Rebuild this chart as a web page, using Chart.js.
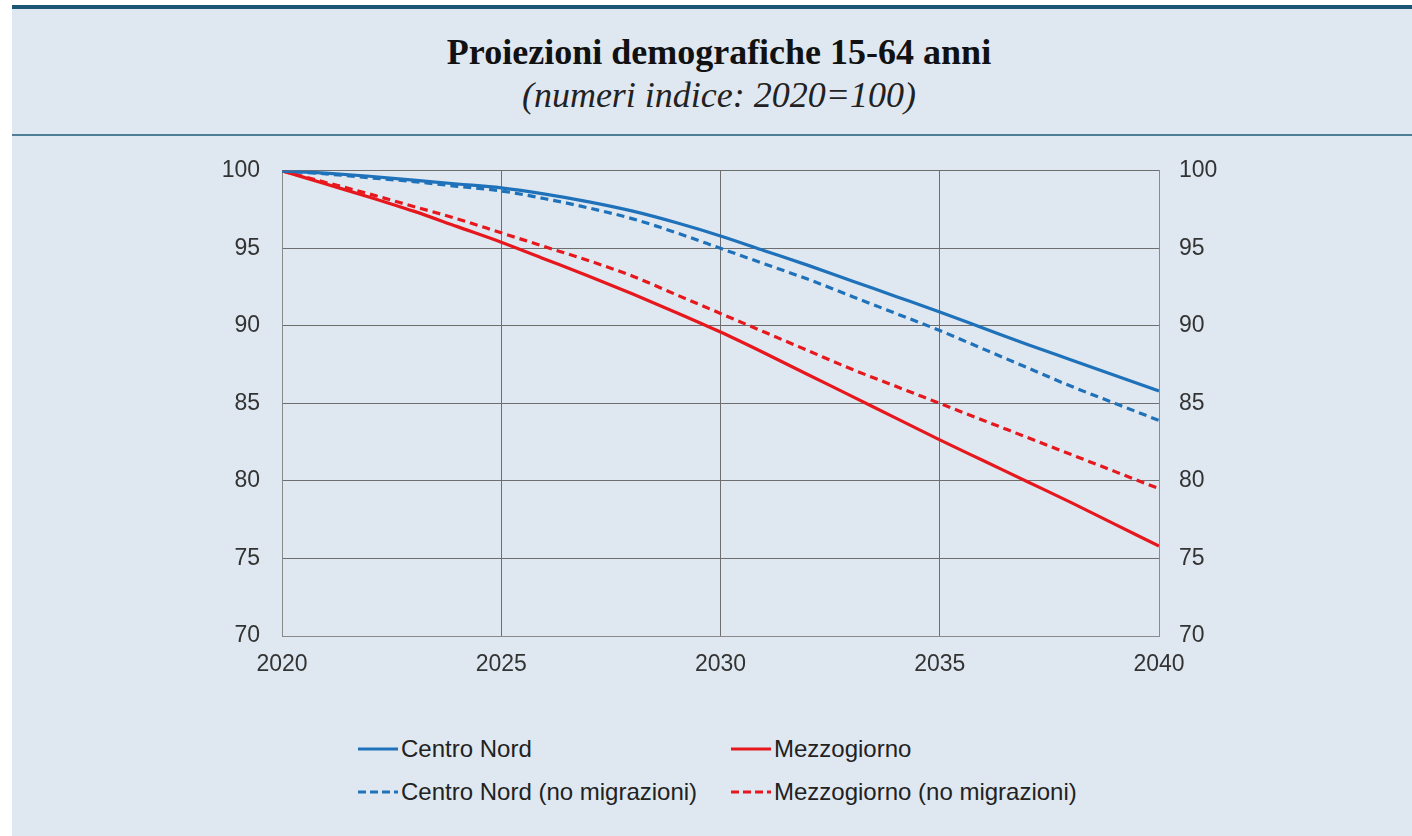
<!DOCTYPE html>
<html>
<head>
<meta charset="utf-8">
<script src="https://cdn.jsdelivr.net/npm/chart.js@4"></script>
<style>
  body { margin: 0; background: #fff; width: 1412px; height: 836px; overflow: hidden; }
  #panel { position: absolute; left: 12px; top: 5px; width: 1400px; height: 831px;
           background: #dfe8f1; border-top: 4px solid #1b5674; }
  #head { position: absolute; left: 0; top: 0; width: 1400px; height: 127px;
          border-bottom: 2px solid #4f7f98; box-sizing: border-box; }
  #title { position: absolute; left: 14px; right: 0; top: 22px; text-align: center; font: bold 36px "Liberation Serif", serif; color: #111; }
  #subtitle { position: absolute; left: 14px; right: 0; top: 65px; text-align: center; font: italic 36px "Liberation Serif", serif; color: #222; }
  #wrap { position: absolute; left: 0; top: 126px; width: 1400px; height: 565px; }
  #legend { position: absolute; left: 0; top: 0; font: 24px "Liberation Sans", Arial, sans-serif; color: #222; }
  .item { position: absolute; display: flex; align-items: center; white-space: nowrap; }
  .item svg { margin-right: 3px; }
</style>
</head>
<body>
<div id="panel">
  <div id="head">
    <div id="title">Proiezioni demografiche 15-64 anni</div>
    <div id="subtitle">(numeri indice: 2020=100)</div>
  </div>
  <div id="wrap"><canvas id="chart" width="1400" height="565"></canvas></div>
  <div id="legend"></div>
</div>
<script>
const years = [2020,2021,2022,2023,2024,2025,2026,2027,2028,2029,2030,2031,2032,2033,2034,2035,2036,2037,2038,2039,2040];
const centroNord = [100,99.85,99.65,99.4,99.15,98.9,98.5,98.0,97.4,96.65,95.8,94.85,93.9,92.9,91.9,90.9,89.85,88.8,87.8,86.8,85.8];
const centroNordNoMig = [100,99.8,99.55,99.3,99.0,98.7,98.2,97.6,96.9,96.0,95.0,94.0,93.0,91.9,90.8,89.7,88.5,87.3,86.1,85.0,83.9];
const mezzogiorno = [100,99.15,98.3,97.4,96.4,95.4,94.3,93.2,92.05,90.85,89.6,88.25,86.85,85.45,84.05,82.65,81.3,79.95,78.6,77.2,75.8];
const mezzogiornoNoMig = [100,99.25,98.5,97.7,96.9,96.0,95.1,94.2,93.2,92.0,90.8,89.6,88.4,87.2,86.1,85.0,83.9,82.8,81.7,80.6,79.5];
const yTicks = [70,75,80,85,90,95,100];

const blue = 'rgb(31,114,186)';
const red = 'rgb(230,24,30)';
const pts = arr => arr.map((v, i) => ({ x: years[i], y: v }));

const tickFont = { family: '"Liberation Sans", Arial, sans-serif', size: 23 };

const chart = new Chart(document.getElementById('chart'), {
  type: 'line',
  data: {
    datasets: [
      { label: 'Centro Nord', data: pts(centroNord), borderColor: blue, col: 0, row: 0 },
      { label: 'Centro Nord (no migrazioni)', data: pts(centroNordNoMig), borderColor: blue, borderDash: [8, 5], col: 0, row: 1 },
      { label: 'Mezzogiorno', data: pts(mezzogiorno), borderColor: red, col: 1, row: 0 },
      { label: 'Mezzogiorno (no migrazioni)', data: pts(mezzogiornoNoMig), borderColor: red, borderDash: [8, 5], col: 1, row: 1 }
    ]
  },
  options: {
    responsive: false,
    animation: false,
    layout: { padding: { top: 25, left: 0, right: 0, bottom: 0 } },
    elements: {
      point: { radius: 0 },
      line: { borderWidth: 3.2, cubicInterpolationMode: 'monotone', fill: false }
    },
    plugins: { legend: { display: false }, tooltip: { enabled: false } },
    scales: {
      x: {
        type: 'linear', min: 2020, max: 2040,
        afterFit: s => { s.height = 64; },
        ticks: { stepSize: 5, padding: 15, color: '#333', font: tickFont, callback: v => String(v), maxRotation: 0 },
        grid: { color: '#6e6e6e', lineWidth: 1, drawTicks: false },
        border: { color: '#8a8a8a', width: 1 }
      },
      y: {
        position: 'left', min: 70, max: 100,
        afterFit: s => { s.width = 270; },
        afterBuildTicks: s => { s.ticks = yTicks.map(v => ({ value: v })); },
        ticks: { padding: 22, color: '#333', font: tickFont },
        grid: { color: '#6e6e6e', lineWidth: 1, drawTicks: false },
        border: { color: '#8a8a8a', width: 1 }
      },
      y2: {
        position: 'right', min: 70, max: 100,
        afterFit: s => { s.width = 253; },
        afterBuildTicks: s => { s.ticks = yTicks.map(v => ({ value: v })); },
        ticks: { padding: 20, color: '#333', font: tickFont },
        grid: { display: false, drawTicks: false },
        border: { color: '#8a8a8a', width: 1 }
      }
    }
  }
});

// html legend in two columns
const legend = document.getElementById('legend');
const colX = [346, 719];
const rowY = [726, 769];
chart.data.datasets.forEach(ds => {
  const el = document.createElement('div');
  el.className = 'item';
  el.style.left = colX[ds.col] + 'px';
  el.style.top = rowY[ds.row] + 'px';
  const dash = ds.borderDash ? 'stroke-dasharray="8,4"' : '';
  el.innerHTML = '<svg width="40" height="6"><line x1="0" y1="3" x2="40" y2="3" stroke="' + ds.borderColor +
    '" stroke-width="3" ' + dash + '/></svg><span>' + ds.label + '</span>';
  legend.appendChild(el);
});
</script>
</body>
</html>
